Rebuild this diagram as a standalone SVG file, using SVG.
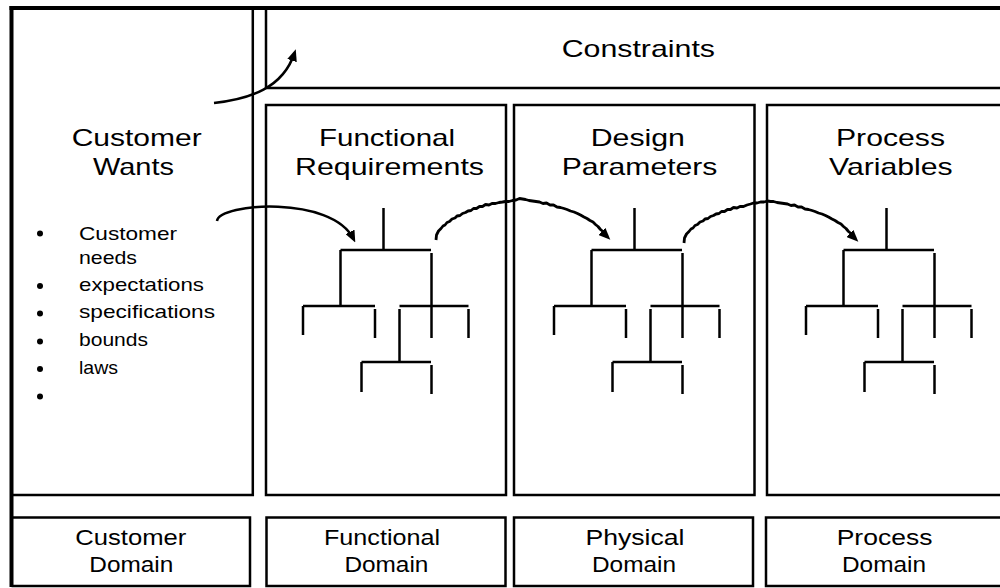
<svg xmlns="http://www.w3.org/2000/svg" width="1000" height="588" viewBox="0 0 1000 588">
<style>
.frame{fill:none;stroke:#000;stroke-width:4}
.box{fill:none;stroke:#000;stroke-width:2.5}
.tree line{stroke:#000;stroke-width:2.5}
.conn{fill:none;stroke:#000;stroke-width:2.5}
.rough{stroke-width:2.8;stroke-linejoin:bevel}
.t{font-family:"Liberation Sans",Arial,sans-serif;fill:#000}
.title{font-size:24px}
.dom{font-size:21.5px}
.bul{font-size:18.5px}
</style>
<defs>
<marker id="ah" markerUnits="userSpaceOnUse" markerWidth="12" markerHeight="10" refX="8" refY="5" orient="auto">
<path d="M0,0 L12,5 L0,10 z" fill="#000"/>
</marker>
<g id="tree" class="tree">
<line x1="383.5" y1="208" x2="383.5" y2="250"/>
<line x1="340.5" y1="250" x2="431" y2="250"/>
<line x1="340.5" y1="250" x2="340.5" y2="306"/>
<line x1="431.5" y1="253" x2="431.5" y2="338"/>
<line x1="303" y1="306" x2="375" y2="306"/>
<line x1="303" y1="306" x2="303" y2="335"/>
<line x1="375" y1="309" x2="375" y2="338"/>
<line x1="399.5" y1="306" x2="468.5" y2="306"/>
<line x1="399.5" y1="309" x2="399.5" y2="362"/>
<line x1="468.5" y1="309" x2="468.5" y2="338"/>
<line x1="361.5" y1="362" x2="431" y2="362"/>
<line x1="361.5" y1="362" x2="361.5" y2="392"/>
<line x1="431.5" y1="365" x2="431.5" y2="394"/>
</g>
</defs>
<rect width="1000" height="588" fill="#fff"/>

<g id="frame">
<line class="frame" x1="11.5" y1="6" x2="11.5" y2="587"/>
<line class="frame" x1="9.5" y1="8" x2="1002" y2="8"/>
</g>

<g id="customer-wants">
<path class="box" d="M11.5,495 H252.8 V8"/>
<text class="t title" x="71.7" y="146" textLength="130" lengthAdjust="spacingAndGlyphs">Customer</text>
<text class="t title" x="93" y="175" textLength="81" lengthAdjust="spacingAndGlyphs">Wants</text>
<g id="bullets">
<circle cx="40" cy="233.5" r="3"/>
<circle cx="40" cy="286" r="3"/>
<circle cx="40" cy="313.5" r="3"/>
<circle cx="40" cy="341.5" r="3"/>
<circle cx="40" cy="369" r="3"/>
<circle cx="40" cy="396.5" r="3"/>
<text class="t bul" x="79" y="240" textLength="98" lengthAdjust="spacingAndGlyphs">Customer</text>
<text class="t bul" x="79" y="263.5" textLength="58" lengthAdjust="spacingAndGlyphs">needs</text>
<text class="t bul" x="79" y="290.5" textLength="125" lengthAdjust="spacingAndGlyphs">expectations</text>
<text class="t bul" x="79" y="318" textLength="136" lengthAdjust="spacingAndGlyphs">specifications</text>
<text class="t bul" x="79" y="346" textLength="69" lengthAdjust="spacingAndGlyphs">bounds</text>
<text class="t bul" x="79" y="373.5" textLength="39" lengthAdjust="spacingAndGlyphs">laws</text>
</g>
</g>

<g id="constraints">
<path class="box" d="M266,9 V88 H1002"/>
<text class="t title" x="561.7" y="57.3" textLength="153.3" lengthAdjust="spacingAndGlyphs">Constraints</text>
</g>

<g id="functional-requirements">
<rect class="box" x="266" y="105" width="240" height="390"/>
<text class="t title" x="319" y="146" textLength="136" lengthAdjust="spacingAndGlyphs">Functional</text>
<text class="t title" x="295" y="175" textLength="189" lengthAdjust="spacingAndGlyphs">Requirements</text>
<use href="#tree"/>
</g>

<g id="design-parameters">
<rect class="box" x="514" y="105" width="240.5" height="390"/>
<text class="t title" x="590.7" y="146" textLength="94.3" lengthAdjust="spacingAndGlyphs">Design</text>
<text class="t title" x="561.7" y="175" textLength="155.7" lengthAdjust="spacingAndGlyphs">Parameters</text>
<use href="#tree" transform="translate(251,0)"/>
</g>

<g id="process-variables">
<path class="box" d="M1002,105 H767 V495 H1002"/>
<text class="t title" x="836" y="146" textLength="109" lengthAdjust="spacingAndGlyphs">Process</text>
<text class="t title" x="829" y="175" textLength="123.7" lengthAdjust="spacingAndGlyphs">Variables</text>
<use href="#tree" transform="translate(503,0)"/>
</g>

<g id="customer-domain">
<path class="box" d="M11.5,517.5 H250 V586 H11.5"/>
<text class="t dom" x="75.3" y="545" textLength="111" lengthAdjust="spacingAndGlyphs">Customer</text>
<text class="t dom" x="89.3" y="571.5" textLength="84" lengthAdjust="spacingAndGlyphs">Domain</text>
</g>

<g id="functional-domain">
<rect class="box" x="266.5" y="517.5" width="239" height="68.5"/>
<text class="t dom" x="324" y="545" textLength="116" lengthAdjust="spacingAndGlyphs">Functional</text>
<text class="t dom" x="344.4" y="571.5" textLength="84" lengthAdjust="spacingAndGlyphs">Domain</text>
</g>

<g id="physical-domain">
<rect class="box" x="514" y="517.5" width="239" height="68.5"/>
<text class="t dom" x="585.5" y="545" textLength="99" lengthAdjust="spacingAndGlyphs">Physical</text>
<text class="t dom" x="592" y="571.5" textLength="84" lengthAdjust="spacingAndGlyphs">Domain</text>
</g>

<g id="process-domain">
<path class="box" d="M1002,517.5 H766 V586 H1002"/>
<text class="t dom" x="836.7" y="545" textLength="95.7" lengthAdjust="spacingAndGlyphs">Process</text>
<text class="t dom" x="842" y="571.5" textLength="84" lengthAdjust="spacingAndGlyphs">Domain</text>
</g>

<g id="connectors">
<path class="conn" marker-end="url(#ah)" d="M214,103 C250,99 283,88 294.5,53"/>
<path class="conn" marker-end="url(#ah)" d="M217,221 C219,203 332,195 353.5,239"/>
<polyline id="fr-dp" class="conn rough" marker-end="url(#ah)" points="436,240 436.5,235 438.5,231 441,228.5 443,226 445,225 447,222.5 449.5,221.5 452,219 455,218 457,216 460,215.5 462.5,213.5 465.5,212.5 468,211 471,210.5 473.5,208.5 476.5,208.5 479.5,206.5 482.5,206.5 485.5,204.5 489,205 492,203.5 495.5,203.5 499,202.5 502.5,202 505.5,201.5 509,201.5 512.5,200.5 516,200 519.5,198.5 522.5,199 525.5,199.5 529,200.5 532.5,201 536,201.5 539.5,202 543,203.5 546.5,203 550,205 553.5,205 557,207 560.5,207.5 564,208.5 567,209.5 570.5,211 574,212 577.5,213.5 580.5,215 584,217 587,218.5 590,220.5 593,222 595.5,224.5 598,226.5 600.5,229.5 603,231.5 605,234.5 607.5,237"/>
<polyline id="dp-pv" class="conn rough" marker-end="url(#ah)" points="684,243 684.5,238 686.5,234 689,231.5 691,229 693,228 695,225.5 697.5,224.5 700,222 703,221 705,219 708,218.5 710.5,216.5 713.5,215.5 716,214 719,213.5 721.5,211.5 724.5,211.5 727.5,209.5 730.5,209.5 733.5,207.5 737,208 740,206.5 743.5,206.5 747,205 750.5,204 753.5,203 757,203 760.5,202 764,202 767.5,201 770.5,201.5 773.5,201.5 777,202.5 780.5,203 784,203.5 787.5,204 791,205.5 794.5,205 798,207 801.5,207 805,209 808.5,209.5 812,210.5 815,211.5 818.5,213 822,214 825.5,215.5 828.5,217 832,219 835,220.5 838,222.5 841,224 843.5,226.5 846,228.5 848.5,231.5 851,233.5 853,236.5 855.5,239"/>
</g>
</svg>
